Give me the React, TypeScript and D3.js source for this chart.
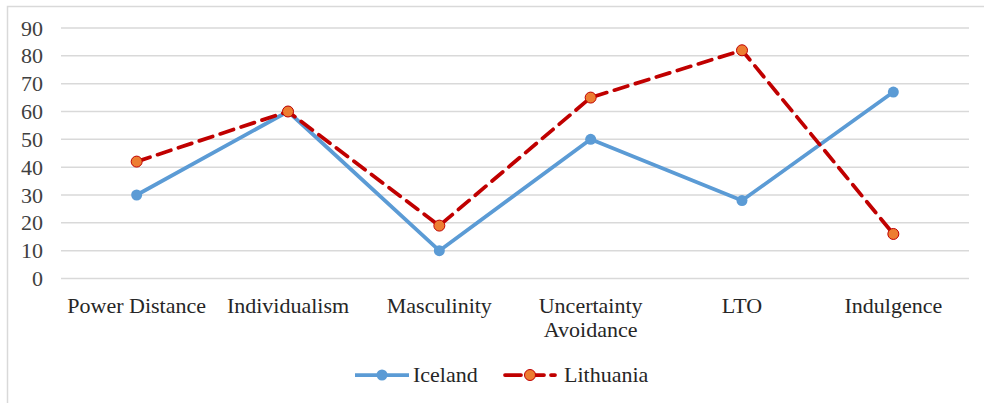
import * as d3 from 'd3';
import { useEffect, useRef } from 'react';

const categories = ['Power Distance', 'Individualism', 'Masculinity', 'Uncertainty Avoidance', 'LTO', 'Indulgence'];
const iceland = [30, 60, 10, 50, 28, 67];
const lithuania = [42, 60, 19, 65, 82, 16];
const yTicks = [0, 10, 20, 30, 40, 50, 60, 70, 80, 90];

export default function App() {
  const ref = useRef<SVGSVGElement | null>(null);

  useEffect(() => {
    const width = 984;
    const height = 403;
    const font = 'Liberation Serif, Times New Roman, DejaVu Serif, serif';

    const svg = d3.select(ref.current);
    svg.selectAll('*').remove();
    svg.attr('width', width).attr('height', height).attr('font-family', font);

    svg.append('rect').attr('width', width).attr('height', height).attr('fill', '#fff');

    // outer frame (runs off right and bottom edge like the screenshot)
    svg
      .append('rect')
      .attr('x', 7.5)
      .attr('y', 6.5)
      .attr('width', 1000)
      .attr('height', 420)
      .attr('fill', 'none')
      .attr('stroke', '#D9D9D9')
      .attr('stroke-width', 1.5);

    const x = d3.scaleBand().domain(categories).range([61, 969]);
    const y = d3.scaleLinear().domain([0, 90]).range([278.5, 28]);
    const cx = (c: string) => (x(c) as number) + x.bandwidth() / 2;

    /* ---------- GRID ---------- */
    svg
      .selectAll('.grid')
      .data(yTicks)
      .enter()
      .append('line')
      .attr('x1', 61)
      .attr('x2', 969)
      .attr('y1', d => y(d))
      .attr('y2', d => y(d))
      .attr('stroke', '#D9D9D9')
      .attr('stroke-width', 1.5);

    /* ---------- Y LABELS ---------- */
    svg
      .selectAll('.ytick')
      .data(yTicks)
      .enter()
      .append('text')
      .attr('x', 43)
      .attr('y', d => y(d) + 7.5)
      .attr('text-anchor', 'end')
      .attr('fill', '#404040')
      .attr('font-family', font)
      .attr('font-size', 22)
      .text(d => d);

    /* ---------- X LABELS ---------- */
    const xl = svg
      .selectAll('.xlab')
      .data(categories)
      .enter()
      .append('text')
      .attr('text-anchor', 'middle')
      .attr('fill', '#262626')
      .attr('font-family', font)
      .attr('font-size', 22);

    xl.each(function (d) {
      const words = d === 'Uncertainty Avoidance' ? ['Uncertainty', 'Avoidance'] : [d];
      const t = d3.select(this);
      words.forEach((w, i) => {
        t.append('tspan')
          .attr('x', cx(d))
          .attr('y', 313 + i * 24)
          .text(w);
      });
    });

    /* ---------- SERIES ---------- */
    const line = d3
      .line<number>()
      .x((_, i) => cx(categories[i]))
      .y(d => y(d));

    svg
      .append('path')
      .attr('d', line(iceland))
      .attr('fill', 'none')
      .attr('stroke', '#5B9BD5')
      .attr('stroke-width', 3.75)
      .attr('stroke-linejoin', 'round');

    svg
      .selectAll('.ice-pt')
      .data(iceland)
      .enter()
      .append('circle')
      .attr('cx', (_, i) => cx(categories[i]))
      .attr('cy', d => y(d))
      .attr('r', 5.5)
      .attr('fill', '#5B9BD5');

    svg
      .append('path')
      .attr('d', line(lithuania))
      .attr('fill', 'none')
      .attr('stroke', '#C00000')
      .attr('stroke-width', 3.75)
      .attr('stroke-dasharray', '14,8')
      .attr('stroke-linecap', 'round');

    svg
      .selectAll('.lt-pt')
      .data(lithuania)
      .enter()
      .append('circle')
      .attr('cx', (_, i) => cx(categories[i]))
      .attr('cy', d => y(d))
      .attr('r', 5.5)
      .attr('fill', '#ED7D31')
      .attr('stroke', '#C00000')
      .attr('stroke-width', 1);

    /* ---------- LEGEND ---------- */
    const legend = [
      { name: 'Iceland', x0: 355, x1: 409, color: '#5B9BD5', dash: null, fill: '#5B9BD5', tx: 413 },
      { name: 'Lithuania', x0: 505, x1: 555, color: '#C00000', dash: '14,8', fill: '#ED7D31', tx: 564 },
    ];
    const ly = 375;
    legend.forEach(l => {
      svg
        .append('line')
        .attr('x1', l.x0)
        .attr('x2', l.x1)
        .attr('y1', ly)
        .attr('y2', ly)
        .attr('stroke', l.color)
        .attr('stroke-width', 3.75)
        .attr('stroke-dasharray', l.dash ? '16,7' : null)
        .attr('stroke-linecap', l.dash ? 'round' : null);
      svg
        .append('circle')
        .attr('cx', (l.x0 + l.x1) / 2)
        .attr('cy', ly)
        .attr('r', 5.5)
        .attr('fill', l.fill)
        .attr('stroke', l.dash ? '#C00000' : null)
        .attr('stroke-width', 1);
      svg
        .append('text')
        .attr('x', l.tx)
        .attr('y', 382)
        .attr('fill', '#262626')
        .attr('font-family', font)
        .attr('font-size', 22)
        .text(l.name);
    });
  }, []);

  return (
    <div style={{ position: 'absolute', left: 0, top: 0 }}>
      <svg ref={ref} style={{ display: 'block' }} />
    </div>
  );
}
